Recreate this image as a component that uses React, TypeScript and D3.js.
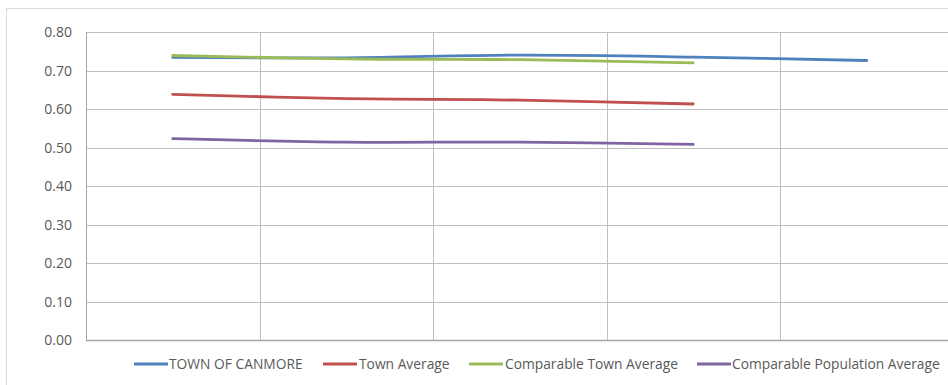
import React from "react";
import * as d3 from "d3";

// Five reporting periods (the axis shows no category labels)
const categories = ["1", "2", "3", "4", "5"];

const townOfCanmore = [0.734, 0.733, 0.740, 0.735, 0.726];
const townAverage = [0.638, 0.627, 0.623, 0.613];
const comparableTownAverage = [0.739, 0.730, 0.728, 0.720];
const comparablePopulationAverage = [0.523, 0.514, 0.514, 0.508];

const yTicks = [0, 0.1, 0.2, 0.3, 0.4, 0.5, 0.6, 0.7, 0.8];

const seriesNames = [
  "TOWN OF CANMORE",
  "Town Average",
  "Comparable Town Average",
  "Comparable Population Average",
];
const seriesColors = ["#4f81bd", "#c0504d", "#9bbb59", "#8064a2"];
const seriesValues = [
  townOfCanmore,
  townAverage,
  comparableTownAverage,
  comparablePopulationAverage,
];

const W = 948;
const H = 385;
const plot = { left: 86, top: 32, right: 953.5, bottom: 340 };
const FONT = "'Open Sans', sans-serif";

export default function App() {
  const x = d3
    .scaleBand<string>()
    .domain(categories)
    .range([plot.left, plot.right])
    .paddingInner(0)
    .paddingOuter(0);
  const y = d3.scaleLinear().domain([0, 0.8]).range([plot.bottom, plot.top]);

  const line = d3
    .line<number>()
    .x((_, i) => (x(categories[i]) as number) + x.bandwidth() / 2)
    .y((d) => y(d))
    .curve(d3.curveCatmullRom.alpha(0.5));

  const boundaries = categories.map((c) => x(c) as number).slice(1);

  // legend layout: line swatch followed by label
  const legendY = 364;
  const legendItems = [
    { x0: 134, tx: 169 },
    { x0: 323, tx: 359 },
    { x0: 469, tx: 505 },
    { x0: 697, tx: 732 },
  ];

  return (
    <svg
      width={W}
      height={H}
      style={{ position: "absolute", left: 0, top: 0, background: "#fff" }}
    >
      {/* chart frame */}
      <rect
        x={6.5}
        y={8.5}
        width={W + 10}
        height={H + 10}
        fill="#fff"
        stroke="#d9d9d9"
        strokeWidth={1}
      />
      {/* horizontal gridlines */}
      {yTicks.map((t) => (
        <line
          key={"h" + t}
          x1={plot.left}
          x2={plot.right}
          y1={Math.round(y(t)) + 0.5}
          y2={Math.round(y(t)) + 0.5}
          stroke={t === 0 ? "#a6a6a6" : "#bfbfbf"}
          strokeWidth={t === 0 ? 1.5 : 1}
        />
      ))}
      {/* vertical gridlines at category boundaries */}
      {[plot.left, ...boundaries].map((b, i) => (
        <line
          key={"v" + i}
          x1={Math.round(b) + 0.5}
          x2={Math.round(b) + 0.5}
          y1={plot.top}
          y2={plot.bottom}
          stroke={i === 0 ? "#a6a6a6" : "#bfbfbf"}
          strokeWidth={1}
        />
      ))}
      {/* y axis labels */}
      {yTicks.map((t) => (
        <text
          key={"t" + t}
          x={72}
          y={y(t)}
          dy="0.36em"
          textAnchor="end"
          fontFamily={FONT}
          fontSize={14}
          fill="#595959"
        >
          {t.toFixed(2)}
        </text>
      ))}
      {/* series lines */}
      {seriesValues.map((vals, i) => (
        <path
          key={seriesNames[i]}
          d={line(vals) || ""}
          fill="none"
          stroke={seriesColors[i]}
          strokeWidth={2.8}
          strokeLinecap="round"
          strokeLinejoin="round"
        />
      ))}
      {/* legend */}
      {seriesNames.map((name, i) => (
        <g key={"lg" + i}>
          <line
            x1={legendItems[i].x0}
            x2={legendItems[i].x0 + 34}
            y1={legendY}
            y2={legendY}
            stroke={seriesColors[i]}
            strokeWidth={2.8}
          />
          <text
            x={legendItems[i].tx}
            y={legendY}
            dy="0.36em"
            fontFamily={FONT}
            fontSize={13.8}
            fill="#595959"
          >
            {name}
          </text>
        </g>
      ))}
    </svg>
  );
}
